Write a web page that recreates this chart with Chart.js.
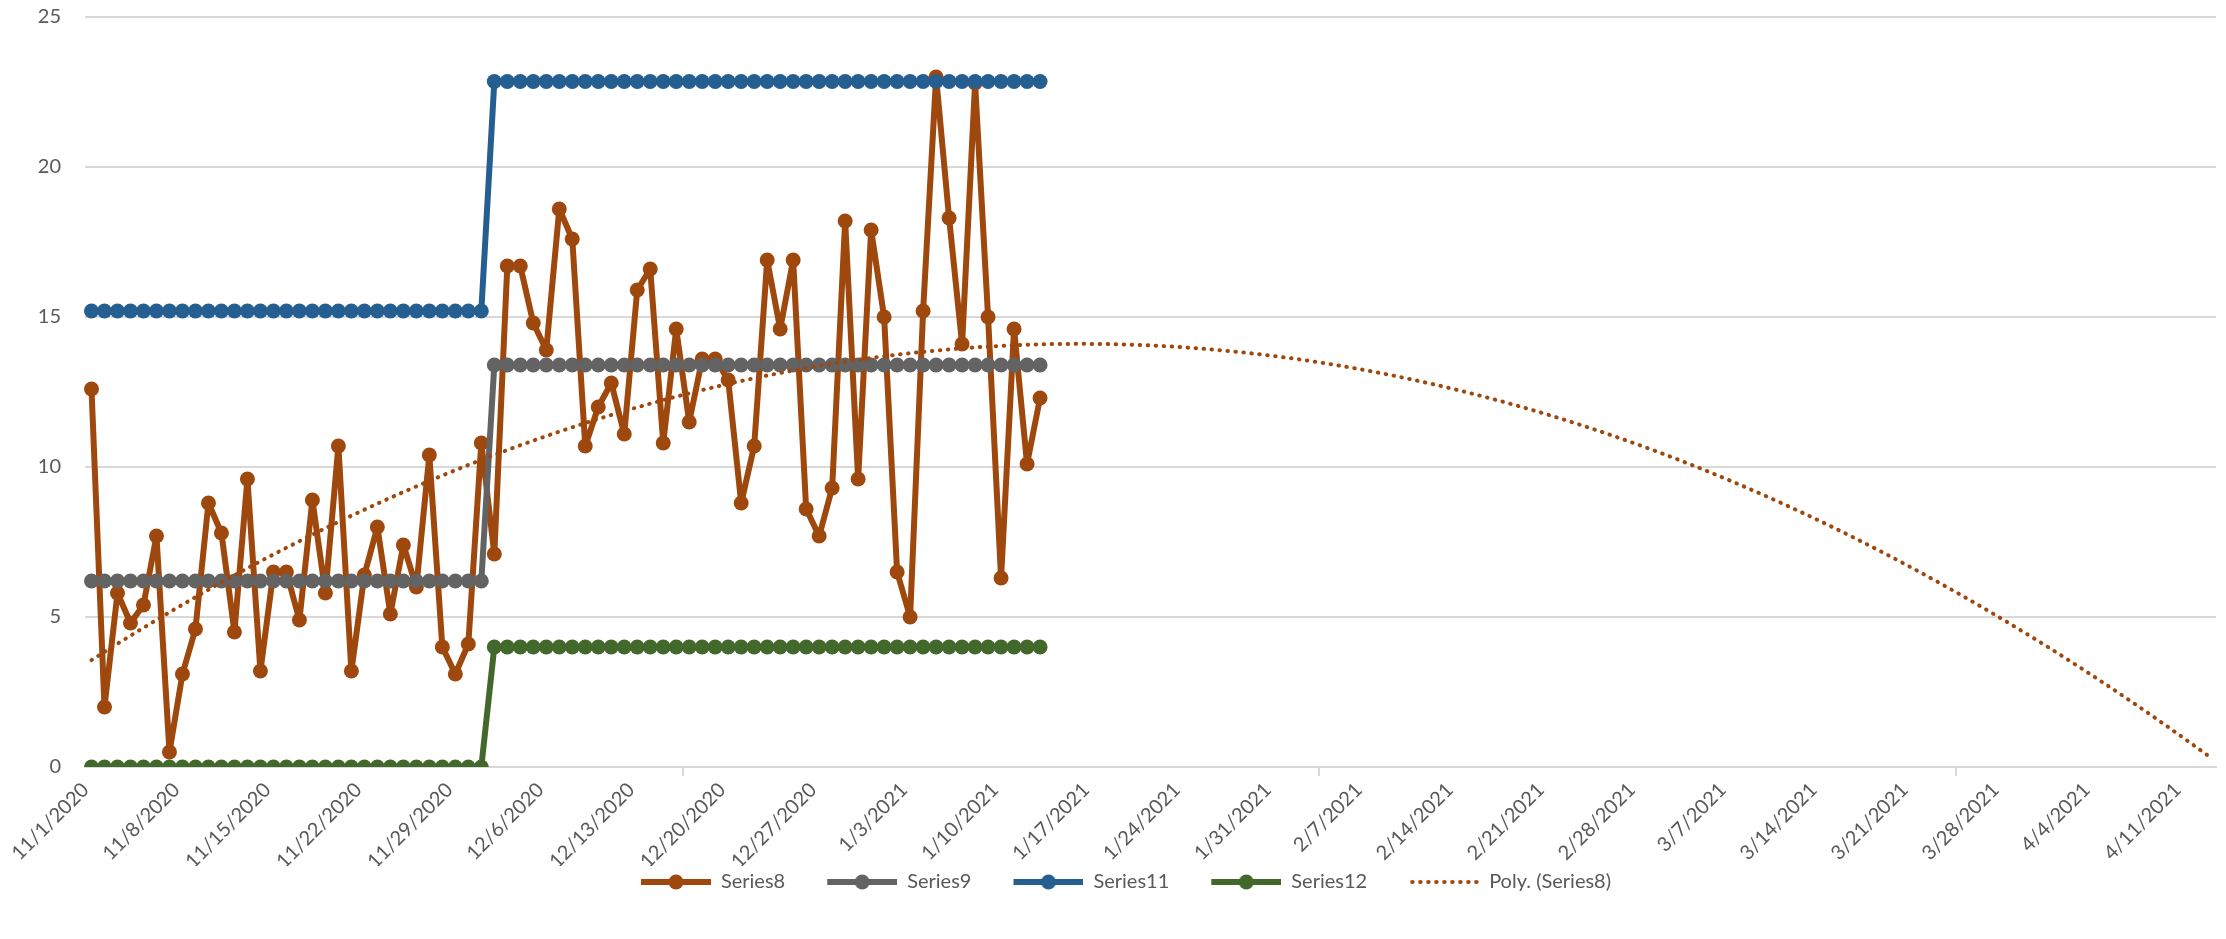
<!DOCTYPE html>
<html>
<head>
<meta charset="utf-8">
<script src="https://cdn.jsdelivr.net/npm/chart.js@4.4.1/dist/chart.umd.min.js"></script>
<style>
  html, body { margin: 0; padding: 0; background: #fff; }
  #marco { width: 2226px; height: 939px; }
</style>
</head>
<body>
<div id="marco"><canvas id="grafico" width="2226" height="939"></canvas></div>
<script>
// eje x: un dia por categoria, etiqueta cada 7 dias
const fechaInicio = new Date(2020, 10, 1);
const totalDias = 164;
const etiquetasSemana = [
  '11/1/2020', '11/8/2020', '11/15/2020', '11/22/2020', '11/29/2020', '12/6/2020',
  '12/13/2020', '12/20/2020', '12/27/2020', '1/3/2021', '1/10/2021', '1/17/2021',
  '1/24/2021', '1/31/2021', '2/7/2021', '2/14/2021', '2/21/2021', '2/28/2021',
  '3/7/2021', '3/14/2021', '3/21/2021', '3/28/2021', '4/4/2021', '4/11/2021'
];

const series8 = [
  12.6, 2.0, 5.8, 4.8, 5.4, 7.7, 0.5, 3.1, 4.6, 8.8, 7.8, 4.5, 9.6, 3.2, 6.5, 6.5,
  4.9, 8.9, 5.8, 10.7, 3.2, 6.4, 8.0, 5.1, 7.4, 6.0, 10.4, 4.0, 3.1, 4.1, 10.8,
  7.1, 16.7, 16.7, 14.8, 13.9, 18.6, 17.6, 10.7, 12.0, 12.8, 11.1, 15.9, 16.6, 10.8,
  14.6, 11.5, 13.6, 13.6, 12.9, 8.8, 10.7, 16.9, 14.6, 16.9, 8.6, 7.7, 9.3, 18.2,
  9.6, 17.9, 15.0, 6.5, 5.0, 15.2, 23.0, 18.3, 14.1, 22.8, 15.0, 6.3, 14.6, 10.1, 12.3
];
const series9 = [
  6.2, 6.2, 6.2, 6.2, 6.2, 6.2, 6.2, 6.2, 6.2, 6.2, 6.2, 6.2, 6.2, 6.2, 6.2, 6.2,
  6.2, 6.2, 6.2, 6.2, 6.2, 6.2, 6.2, 6.2, 6.2, 6.2, 6.2, 6.2, 6.2, 6.2, 6.2,
  13.4, 13.4, 13.4, 13.4, 13.4, 13.4, 13.4, 13.4, 13.4, 13.4, 13.4, 13.4, 13.4, 13.4,
  13.4, 13.4, 13.4, 13.4, 13.4, 13.4, 13.4, 13.4, 13.4, 13.4, 13.4, 13.4, 13.4, 13.4,
  13.4, 13.4, 13.4, 13.4, 13.4, 13.4, 13.4, 13.4, 13.4, 13.4, 13.4, 13.4, 13.4, 13.4, 13.4
];
const series11 = [
  15.2, 15.2, 15.2, 15.2, 15.2, 15.2, 15.2, 15.2, 15.2, 15.2, 15.2, 15.2, 15.2, 15.2, 15.2, 15.2,
  15.2, 15.2, 15.2, 15.2, 15.2, 15.2, 15.2, 15.2, 15.2, 15.2, 15.2, 15.2, 15.2, 15.2, 15.2,
  22.85, 22.85, 22.85, 22.85, 22.85, 22.85, 22.85, 22.85, 22.85, 22.85, 22.85, 22.85, 22.85, 22.85,
  22.85, 22.85, 22.85, 22.85, 22.85, 22.85, 22.85, 22.85, 22.85, 22.85, 22.85, 22.85, 22.85, 22.85,
  22.85, 22.85, 22.85, 22.85, 22.85, 22.85, 22.85, 22.85, 22.85, 22.85, 22.85, 22.85, 22.85, 22.85, 22.85
];
const series12 = [
  0, 0, 0, 0, 0, 0, 0, 0, 0, 0, 0, 0, 0, 0, 0, 0,
  0, 0, 0, 0, 0, 0, 0, 0, 0, 0, 0, 0, 0, 0, 0,
  4, 4, 4, 4, 4, 4, 4, 4, 4, 4, 4, 4, 4, 4,
  4, 4, 4, 4, 4, 4, 4, 4, 4, 4, 4, 4, 4, 4,
  4, 4, 4, 4, 4, 4, 4, 4, 4, 4, 4, 4, 4, 4, 4
];

const colores = {
  s8: '#9E480E',
  s9: '#636363',
  s11: '#255E91',
  s12: '#43682B',
  texto: '#595959',
  rejilla: '#D9D9D9',
};
const fuenteY = { family: 'Lato', size: 20 };
const fuenteX = { family: 'Lato', size: 20 };
const fuenteLeyenda = { family: 'Lato', size: 20 };

function etiquetasDiarias() {
  const res = [];
  for (let i = 0; i < totalDias; i++) {
    const d = new Date(fechaInicio.getFullYear(), fechaInicio.getMonth(), fechaInicio.getDate() + i);
    res.push(`${d.getMonth() + 1}/${d.getDate()}/${d.getFullYear()}`);
  }
  return res;
}

// linea de tendencia polinomica (orden 2) por minimos cuadrados, como Excel
function tendenciaPoly(datos, n) {
  let s = [0, 0, 0, 0, 0], t = [0, 0, 0];
  datos.forEach((y, x) => {
    for (let k = 0; k < 5; k++) s[k] += Math.pow(x, k);
    for (let k = 0; k < 3; k++) t[k] += y * Math.pow(x, k);
  });
  const m = [[s[0], s[1], s[2], t[0]], [s[1], s[2], s[3], t[1]], [s[2], s[3], s[4], t[2]]];
  for (let i = 0; i < 3; i++) {
    for (let j = i + 1; j < 3; j++) {
      const f = m[j][i] / m[i][i];
      for (let k = i; k < 4; k++) m[j][k] -= f * m[i][k];
    }
  }
  const c = [0, 0, 0];
  for (let i = 2; i >= 0; i--) {
    let v = m[i][3];
    for (let k = i + 1; k < 3; k++) v -= m[i][k] * c[k];
    c[i] = v / m[i][i];
  }
  const res = [];
  for (let x = 0; x < n; x++) res.push(c[0] + c[1] * x + c[2] * x * x);
  return res;
}

// icono de leyenda: margen transparente a la izquierda para separar items
const margenIcono = 36;
function iconoLeyenda(color, punteado) {
  const cv = document.createElement('canvas');
  cv.width = 70 + margenIcono;
  cv.height = 18;
  const g = cv.getContext('2d');
  g.strokeStyle = color;
  g.fillStyle = color;
  const x0 = margenIcono;
  if (punteado) {
    g.lineWidth = 4;
    g.lineCap = 'round';
    g.setLineDash([0.5, 7.5]);
    g.beginPath();
    g.moveTo(x0 + 3, 9);
    g.lineTo(x0 + 68, 9);
    g.stroke();
  } else {
    g.lineWidth = 6;
    g.beginPath();
    g.moveTo(x0, 9);
    g.lineTo(x0 + 70, 9);
    g.stroke();
    g.beginPath();
    g.arc(x0 + 35, 9, 7.5, 0, Math.PI * 2);
    g.fill();
  }
  return cv;
}

function serie(label, data, color, orden) {
  return {
    label,
    data,
    borderColor: color,
    backgroundColor: color,
    borderWidth: 6,
    borderJoinStyle: 'round',
    pointRadius: 7.5,
    pointBorderWidth: 0,
    pointBackgroundColor: color,
    tension: 0,
    order: orden,
  };
}

const etiquetas = etiquetasDiarias();
const iconos = [
  iconoLeyenda(colores.s8, false),
  iconoLeyenda(colores.s9, false),
  iconoLeyenda(colores.s11, false),
  iconoLeyenda(colores.s12, false),
  iconoLeyenda(colores.s8, true),
];

new Chart(document.getElementById('grafico').getContext('2d'), {
  type: 'line',
  data: {
    labels: etiquetas,
    datasets: [
      serie('Series8', series8, colores.s8, 5),
      serie('Series9', series9, colores.s9, 4),
      serie('Series11', series11, colores.s11, 3),
      serie('Series12', series12, colores.s12, 2),
      {
        label: 'Poly. (Series8)',
        data: tendenciaPoly(series8, totalDias),
        borderColor: colores.s8,
        borderWidth: 4,
        borderDash: [0.5, 7.5],
        borderCapStyle: 'round',
        pointRadius: 0,
        fill: false,
        order: 1,
      },
    ]
  },
  options: {
    responsive: false,
    animation: false,
    devicePixelRatio: 1,
    layout: { padding: { left: 0, right: 10, top: 0, bottom: 37 } },
    scales: {
      x: {
        offset: true,
        afterFit: s => { s.height = 99; },
        grid: {
          offset: true,
          drawOnChartArea: false,
          drawTicks: true,
          tickLength: 9,
          lineWidth: 2,
          color: ctx => (ctx.index !== undefined && ctx.index % 7 === 0) ? colores.rejilla : 'rgba(0,0,0,0)',
        },
        border: { display: true, color: colores.rejilla, width: 2 },
        ticks: {
          autoSkip: false,
          maxRotation: 45,
          minRotation: 45,
          color: colores.texto,
          font: fuenteX,
          padding: 2,
          labelOffset: -6,
          callback: (v, i) => i % 7 === 0 ? etiquetasSemana[i / 7] : null,
        },
      },
      y: {
        min: 0,
        max: 25,
        afterFit: s => { s.width = 85; s.paddingTop = 17; },
        ticks: { stepSize: 5, padding: 24, color: colores.texto, font: fuenteY },
        grid: { color: colores.rejilla, lineWidth: 2, drawTicks: false },
        border: { display: false },
      },
    },
    plugins: {
      tooltip: { enabled: false },
      legend: {
        position: 'bottom',
        labels: {
          usePointStyle: true,
          pointStyleWidth: 70 + margenIcono,
          padding: 6,
          color: colores.texto,
          font: fuenteLeyenda,
          generateLabels: chart => chart.data.datasets.map((ds, i) => ({
            text: ds.label,
            datasetIndex: i,
            pointStyle: iconos[i],
            fontColor: colores.texto,
            hidden: false,
            lineWidth: 0,
            strokeStyle: 'rgba(0,0,0,0)',
            fillStyle: 'rgba(0,0,0,0)',
          })),
        },
      },
    },
  },
});
</script>
</body>
</html>
